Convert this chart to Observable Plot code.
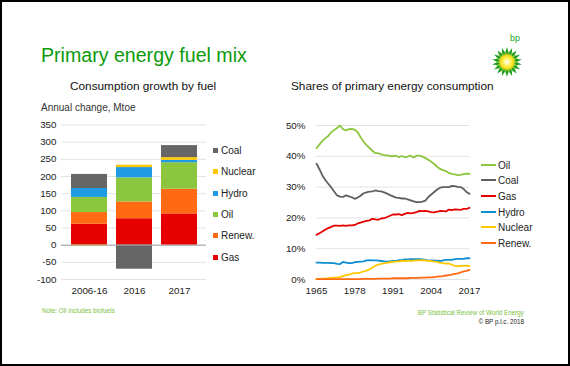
<!DOCTYPE html>
<html>
<head>
<meta charset="utf-8">
<script src="https://cdn.jsdelivr.net/npm/d3@7"></script>
<script src="https://cdn.jsdelivr.net/npm/@observablehq/plot@0.6"></script>
<style>
  html, body { margin: 0; padding: 0; background: #fff; }
  body { font-family: "Liberation Sans", Arial, sans-serif; }
  #wrap { position: relative; width: 570px; height: 366px; overflow: hidden; background: #fff; }
  #border { position: absolute; left: 0; top: 0; width: 570px; height: 366px; box-sizing: border-box; border: 2px solid #000; pointer-events: none; }
  .abs { position: absolute; white-space: nowrap; }
  #title { left: 41px; top: 44px; font-size: 19.6px; color: #0c9a0c; }
  .sub { font-size: 11.8px; color: #111; top: 79px; }
  #unit { left: 41px; top: 102px; font-size: 10px; color: #333; }
  .leg { font-size: 10px; color: #222; }
  .foot { font-size: 6.3px; }
</style>
</head>
<body>
<div id="wrap">
  <div id="title" class="abs">Primary energy fuel mix</div>
  <div class="abs sub" style="left:70px">Consumption growth by fuel</div>
  <div class="abs sub" style="left:291px">Shares of primary energy consumption</div>
  <div id="unit" class="abs">Annual change, Mtoe</div>
  <div id="left" class="abs" style="left:0px;top:110px"></div>
  <div id="right" class="abs" style="left:270px;top:110px"></div>
  <div id="legL"></div>
  <div id="legR"></div>
  <div class="abs foot" style="left:42px;top:307px;color:#7cc242">Note: Oil includes biofuels</div>
  <div class="abs foot" style="right:46px;top:309px;color:#7cc242">BP Statistical Review of World Energy</div>
  <div class="abs foot" style="right:46px;top:318px;color:#222">© BP p.l.c. 2018</div>
  <div class="abs" style="left:510px;top:33px;font-size:9px;color:#1aa51a">bp</div>
  <svg id="logo" class="abs" style="left:490px;top:45px" width="34" height="34"></svg>
  <div id="border"></div>
</div>
<script>
// ---------- Data: consumption growth by fuel (Mtoe) ----------
const periods = ["2006-16", "2016", "2017"];
const fuelsStack = ["Gas", "Renew.", "Oil", "Hydro", "Nuclear", "Coal"];
const gasGrowth     = [61, 77, 91];
const renewGrowth   = [34, 49, 72];
const oilGrowth     = [44, 70, 77];
const hydroGrowth   = [26, 30, 7];
const nuclearGrowth = [-3, 7, 8];
const coalGrowth    = [41, -70, 35];
const barColors = ["#e60000", "#ff6a13", "#8cc63e", "#1e9be4", "#ffc800", "#666666"];
const yTicksLeft = [-100, -50, 0, 50, 100, 150, 200, 250, 300, 350];

// ---------- Data: shares of primary energy consumption (%) ----------
const years = d3.range(1965, 2018);
const oilShare = [42.6,43.8,45.0,45.9,46.6,47.8,48.5,49.2,50.0,48.8,48.4,48.8,48.9,48.6,47.8,46.2,44.8,43.6,42.7,41.8,41.0,41.0,40.6,40.4,40.3,40.1,40.0,40.2,39.7,40.1,39.7,39.9,40.2,39.6,40.2,40.2,39.9,39.4,38.9,38.2,37.5,36.6,35.9,35.5,35.2,34.6,34.3,34.1,33.9,34.0,34.2,34.4,34.3];
const coalShare = [37.6,35.8,33.8,32.3,31.1,29.9,28.6,27.3,26.9,26.8,27.3,27.0,26.7,26.2,26.6,27.2,28.0,28.3,28.5,28.6,28.9,28.7,28.6,28.3,27.9,27.4,27.0,26.6,26.5,26.3,26.3,26.0,25.7,25.4,25.1,25.1,25.3,25.6,26.8,27.6,28.4,29.2,29.8,30.0,30.0,30.0,30.4,30.3,30.1,30.0,29.4,28.4,27.8];
const gasShare = [14.5,15.0,15.6,16.2,16.7,17.1,17.5,17.5,17.4,17.6,17.4,17.6,17.6,17.7,18.2,18.5,18.8,19.0,19.2,19.7,19.5,19.4,19.8,19.9,20.3,20.7,21.1,21.1,21.2,20.9,21.3,21.6,21.5,21.6,21.9,22.3,22.2,22.3,22.1,21.9,21.8,22.0,22.3,22.2,22.1,22.7,22.5,22.8,22.7,22.6,22.9,22.9,23.3];
const hydroShare = [5.5,5.5,5.4,5.4,5.4,5.3,5.3,5.1,5.0,5.7,5.5,5.3,5.3,5.6,5.7,5.8,5.9,6.2,6.3,6.2,6.2,6.1,6.0,5.9,5.8,5.9,6.0,6.0,6.3,6.3,6.5,6.5,6.6,6.6,6.6,6.6,6.5,6.4,6.1,6.2,6.1,6.1,6.0,6.2,6.4,6.4,6.4,6.6,6.7,6.7,6.7,6.9,6.9];
const nuclearShare = [0.2,0.2,0.3,0.3,0.4,0.5,0.6,0.7,0.8,1.1,1.4,1.6,1.9,2.1,2.1,2.3,2.6,2.9,3.3,3.9,4.5,4.8,5.1,5.3,5.4,5.6,5.7,5.8,5.9,6.0,6.0,6.1,6.0,6.1,6.2,6.2,6.3,6.2,6.0,6.0,5.8,5.7,5.4,5.3,5.2,5.2,4.8,4.4,4.3,4.4,4.4,4.5,4.4];
const renewShare = [0.1,0.1,0.1,0.1,0.1,0.1,0.1,0.1,0.1,0.1,0.1,0.1,0.1,0.1,0.1,0.1,0.2,0.2,0.2,0.2,0.2,0.3,0.3,0.3,0.3,0.3,0.4,0.4,0.4,0.4,0.4,0.4,0.5,0.5,0.5,0.5,0.6,0.6,0.7,0.7,0.8,0.9,1.0,1.1,1.3,1.4,1.6,1.8,2.0,2.3,2.6,2.8,3.1];
const lineFuels = ["Oil", "Coal", "Gas", "Hydro", "Nuclear", "Renew."];
const lineColors = ["#8cc63e", "#5f5f5f", "#e60000", "#0f8fd0", "#ffc800", "#ff6a13"];
const yearTicks = [1965, 1978, 1991, 2004, 2017];
const shareTicks = [0, 10, 20, 30, 40, 50];

// ---------- Left chart ----------
const growthSeries = [gasGrowth, renewGrowth, oilGrowth, hydroGrowth, nuclearGrowth, coalGrowth];
const barRows = [];
fuelsStack.forEach((f, i) => periods.forEach((p, j) => barRows.push({period: p, fuel: f, value: growthSeries[i][j]})));

const font = {fontFamily: "'Liberation Sans', Arial, sans-serif", fontSize: "9.8px", color: "#222", background: "transparent"};

const left = Plot.plot({
  width: 215, height: 190,
  marginLeft: 61, marginRight: 9, marginTop: 14.5, marginBottom: 21,
  style: font,
  x: {domain: periods, padding: 0.2, label: null, tickSize: 0, tickPadding: 8},
  y: {domain: [-100, 350], ticks: yTicksLeft, tickFormat: d => String(d), label: null, tickSize: 0, tickPadding: 5},
  color: {domain: fuelsStack, range: barColors},
  marks: [
    Plot.gridY(yTicksLeft, {stroke: "#e3e3e3", strokeOpacity: 1}),
    Plot.barY(barRows, {x: "period", y: "value", fill: "fuel", order: fuelsStack}),
    Plot.ruleY([0], {stroke: "#a0a0a0", strokeWidth: 1})
  ]
});
document.getElementById("left").appendChild(left);

// ---------- Right chart ----------
const shareSeries = [oilShare, coalShare, gasShare, hydroShare, nuclearShare, renewShare];
const lineRows = [];
lineFuels.forEach((f, i) => years.forEach((y, j) => lineRows.push({year: y, fuel: f, share: shareSeries[i][j]})));

const right = Plot.plot({
  width: 210, height: 190,
  marginLeft: 46, marginRight: 11, marginTop: 15, marginBottom: 21,
  style: font,
  x: {domain: [1965, 2017], ticks: yearTicks, tickFormat: d => String(d), label: null, tickSize: 0, tickPadding: 8},
  y: {domain: [0, 50], ticks: shareTicks, tickFormat: d => d + "%", label: null, tickSize: 0, tickPadding: 11},
  color: {domain: lineFuels, range: lineColors},
  marks: [
    Plot.gridY(shareTicks, {stroke: "#e3e3e3", strokeOpacity: 1}),
    Plot.line(lineRows, {x: "year", y: "share", z: "fuel", stroke: "fuel", strokeWidth: 1.8, curve: "linear"})
  ]
});
document.getElementById("right").appendChild(right);

// ---------- Legends ----------
const legL = document.getElementById("legL");
const legOrder = ["Coal", "Nuclear", "Hydro", "Oil", "Renew.", "Gas"];
legOrder.forEach((f, i) => {
  const c = barColors[fuelsStack.indexOf(f)];
  const d = document.createElement("div");
  d.className = "abs leg";
  d.style.left = "213px";
  d.style.top = (145 + i * 21.3) + "px";
  d.innerHTML = `<span style="display:inline-block;width:5px;height:5px;background:${c};margin-right:3px;vertical-align:1px"></span>${f}`;
  legL.appendChild(d);
});
const legR = document.getElementById("legR");
lineFuels.forEach((f, i) => {
  const d = document.createElement("div");
  d.className = "abs leg";
  d.style.left = "481px";
  d.style.top = (159.5 + i * 15.7) + "px";
  d.innerHTML = `<span style="display:inline-block;width:15px;height:2px;background:${lineColors[i]};margin-right:2px;vertical-align:3px"></span>${f}`;
  legR.appendChild(d);
});

// ---------- BP helios logo (decorative) ----------
const logo = d3.select("#logo");
const defs = logo.append("defs");
const rg = defs.append("radialGradient").attr("id", "hg");
rg.append("stop").attr("offset", "0%").attr("stop-color", "#ffffff");
rg.append("stop").attr("offset", "45%").attr("stop-color", "#fff36a");
rg.append("stop").attr("offset", "100%").attr("stop-color", "#f2d600");
const cx = 17, cy = 17, n = 18;
const pts = [];
for (let k = 0; k < n * 2; k++) {
  const a = (Math.PI * k) / n;
  const r = k % 2 === 0 ? 15 : 9.5;
  pts.push([cx + r * Math.sin(a), cy - r * Math.cos(a)]);
}
logo.append("polygon").attr("points", pts.map(p => p.join(",")).join(" ")).attr("fill", "#1b9e1b");
const pts2 = [];
for (let k = 0; k < n * 2; k++) {
  const a = (Math.PI * (k + 1)) / n;
  const r = k % 2 === 0 ? 11.5 : 7.5;
  pts2.push([cx + r * Math.sin(a), cy - r * Math.cos(a)]);
}
logo.append("polygon").attr("points", pts2.map(p => p.join(",")).join(" ")).attr("fill", "#8cc63e");
logo.append("circle").attr("cx", cx).attr("cy", cy).attr("r", 7.5).attr("fill", "url(#hg)");
</script>
</body>
</html>
